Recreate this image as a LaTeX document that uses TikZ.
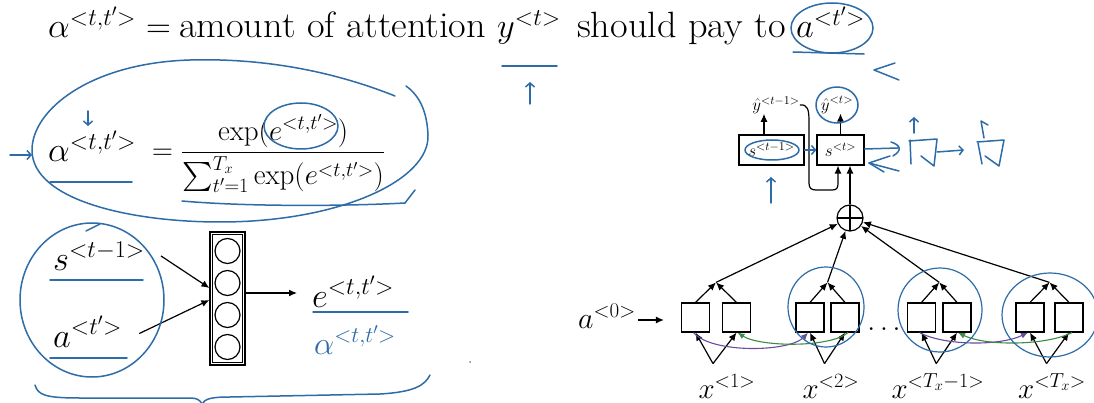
\documentclass[tikz,border=0pt]{standalone}
\usepackage{fix-cm}
\usepackage{graphicx}
\DeclareFontShape{OMX}{cmex}{m}{n}{<->cmex10}{}
\usetikzlibrary{arrows.meta,calc}
\definecolor{hblue}{RGB}{46,108,168}
\definecolor{rpurple}{RGB}{105,75,160}
\definecolor{rgreen}{RGB}{60,140,70}
\newcommand{\mywide}[1]{\scalebox{1.11}[1.06]{#1}}
\begin{document}
\begin{tikzpicture}[x=1pt,y=-1pt,
  hand/.style={draw=hblue,line width=1.5pt,line cap=round,line join=round},
  harrow/.style={hand,-{Straight Barb[length=4pt,width=9pt]}},
  blk/.style={draw=black,line width=1.2pt},
  barr/.style={blk,-{Latex[length=8pt,width=7pt]}},
  big/.style={font=\fontsize{34.5}{40}\selectfont,inner sep=0pt},
  mid/.style={font=\fontsize{29}{32}\selectfont,inner sep=0pt},
  lab/.style={font=\fontsize{29}{32}\selectfont,inner sep=0pt},
  small/.style={font=\fontsize{17}{20}\selectfont,inner sep=0pt},
  cell/.style={blk,rectangle,minimum width=28pt,minimum height=29pt,inner sep=0pt},
  neuron/.style={blk,circle,minimum size=25pt,inner sep=0pt},
  rnnpur/.style={draw=rpurple,line width=1.1pt,-{Latex[length=7pt,width=6pt]}},
  rnngrn/.style={draw=rgreen,line width=1.1pt,-{Latex[length=7pt,width=6pt]}},
]
\fill[white] (0,0) rectangle (1094,403);
\useasboundingbox (0,0) rectangle (1094,403);

% ---------- top line ----------
\node[big,anchor=base west] (t1) at (48,38) {$\alpha^{<t,t'>}$};
\node[big,anchor=base west] (teq) at (146,38) {=};
\node[big,anchor=base west] (t2) at (179,38) {\mywide{amount of attention}};
\node[big,anchor=base west] (ty) at (497,38) {$y^{<t>}$};
\node[big,anchor=base west] (t3) at (577,38) {\mywide{should pay to}};
\node[big,anchor=base west] (ta) at (796,38) {$a^{<t'>}$};
\draw[hand] ($(ty.base west)+(5,28)$) -- ($(ty.base west)+(60,28)$);
\draw[harrow] ($(ty.base west)+(33,66)$) -- ($(ty.base west)+(33,44)$);
\draw[hand] ($(ta.base west)+(36,-10)$) ellipse [x radius=41pt,y radius=25pt];
\draw[hand] ($(ta.base west)+(-3,14)$) -- ($(ta.base west)+(68,16)$);
\draw[hand] ($(ta.base west)+(99,25)$) -- ($(ta.base west)+(78,32)$) -- ($(ta.base west)+(103,42)$);

% ---------- softmax formula ----------
\node[big,anchor=base west] (al) at (48,162) {$\alpha^{<t,t'>}$};
\node[mid,anchor=base west] (fr) at (152,160) {$\displaystyle =\frac{\exp(e^{<t,t'>})}{\sum_{t'=1}^{T_x}\exp(e^{<t,t'>})}$};
\draw[hand] (395,96) .. controls (330,70) and (260,58) .. (190,60)
  .. controls (90,63) and (32,110) .. (32,150)
  .. controls (32,200) and (130,222) .. (220,222)
  .. controls (340,222) and (430,180) .. (428,135)
  .. controls (427,112) and (420,96) .. (406,86);
\draw[hand] (301,126) ellipse [x radius=37pt,y radius=23pt];
\draw[hand] (182,201) .. controls (250,207) and (350,206) .. (405,203) -- (415,190);
\draw[hand] (50,182) -- (132,182);
\draw[harrow] (88,111) -- (88,126);
\draw[harrow] (10,155) -- (32,155);

% ---------- small network ----------
\node[big,anchor=base west] (s) at (53,270) {$s^{<t-1>}$};
\node[big,anchor=base west] (a) at (53,347) {$a^{<t'>}$};
\node[blk,rectangle,minimum width=35pt,minimum height=133pt,inner sep=0pt] (net) at (227.5,298.5) {};
\draw[line width=0.8pt] ($(net.north west)+(3,3)$) rectangle ($(net.south east)+(-3,-3)$);
\node[neuron] (n1) at (227.5,251) {};
\node[neuron] (n2) at (227.5,283) {};
\node[neuron] (n3) at (227.5,315) {};
\node[neuron] (n4) at (227.5,347) {};
\node[big,anchor=base west] (e) at (312,307) {$e^{<t,t'>}$};
\node[anchor=base west,inner sep=0pt,text=hblue,font=\fontsize{32}{36}\selectfont] (ha) at (314,354) {$\alpha^{<t,t'>}$};
\draw[barr] ([xshift=16pt]s.east) -- (net.west |- 0,288);
\draw[barr] ([xshift=17pt,yshift=-2pt]a.east) -- (net.west |- 0,300);
\draw[barr] (net.east |- 0,293) -- ([xshift=-15pt]e.west |- 0,293);
\draw[hand] (92,300) ellipse [x radius=72pt,y radius=77pt];
\draw[hand] (86,231) -- (100,224);
\draw[hand] ($(s.base west)+(-3,10)$) -- ($(s.base west)+(90,10)$);
\draw[hand] ($(a.base west)+(-3,11)$) -- ($(a.base west)+(74,11)$);
\draw[hand] ($(e.base west)+(1,5)$) -- ($(e.base west)+(96,5)$);
\draw[hand] (35,385) .. controls (38,395) and (45,398) .. (80,398) -- (190,398)
  .. controls (197,398) and (200,400) .. (202,404)
  .. controls (205,399) and (210,397) .. (230,397) -- (380,394)
  .. controls (415,392) and (425,385) .. (430,375);
\fill[gray] (470,362) circle (1pt);

% ---------- decoder ----------
\node[small] (yh1) at (776,105) {$\hat{y}^{<t-1>}$};
\node[small] (yh2) at (837,105) {$\hat{y}^{<t>}$};
\node[blk,rectangle,minimum width=65pt,minimum height=30pt,inner sep=0pt,font=\fontsize{17}{20}\selectfont] (s1) at (771.5,150) {$s^{<t-1>}$};
\node[blk,rectangle,minimum width=47pt,minimum height=30pt,inner sep=0pt,font=\fontsize{17}{20}\selectfont] (s2) at (840.5,150) {$s^{<t>}$};
\draw[barr] ([xshift=-7.5pt]s1.north) -- ([xshift=-7.5pt]s1.north |- yh1.south);
\draw[barr] (s2.north) -- (s2.north |- yh2.south);
\draw[barr] (yh1.east) .. controls (808,104) and (809,110) .. (809,122) -- (809,183)
  .. controls (809,188) and (811,190) .. (816,190) -- (832,190)
  .. controls (837,190) and (838,188) .. (838,183) -- (s2.south -| 838,0);
\node[blk,circle,minimum size=26pt,inner sep=0pt,
  path picture={\draw[line width=1.1pt] (path picture bounding box.north) -- (path picture bounding box.south)
   (path picture bounding box.west) -- (path picture bounding box.east);}] (op) at (850,218) {};
\draw[barr] (op.north) -- (op.north |- s2.south);

% hand notes around decoder
\draw[hand] (yh2) ellipse [x radius=21pt,y radius=18pt];
\draw[hand] (772,150) ellipse [x radius=27pt,y radius=10pt];
\draw[harrow] (s1.east) -- (s2.west);
\draw[harrow] (771,203) -- (771,177);
\draw[hand] (s2.east |- 0,149) -- (898,148);
\draw[hand] (891,142) .. controls (900,145) and (903,150) .. (893,156);
\draw[hand] (890,156) -- (869,163) -- (884,172);
\draw[hand] (869,163) -- (899,171);
\draw[hand] (910,140) -- (911,164);
\draw[hand] (909,141) -- (937,139) -- (934,166) -- (921,156);
\draw[harrow] (937,152) -- (964,150);
\draw[hand] (978,143) -- (982,164);
\draw[hand] (977,142) -- (1004,140) -- (999,166) -- (985,156);
\draw[harrow] (914,133) -- (914,117);
\draw[hand] (984,138) -- (981,121) -- (988,125);

% ---------- encoder ----------
\node[cell] (L1) at (695.5,317.5) {};
\node[cell] (R1) at (736.5,317.5) {};
\node[cell] (L2) at (810,317.5) {};
\node[cell] (R2) at (845,317.5) {};
\node[cell] (L3) at (921.5,317.5) {};
\node[cell] (R3) at (957,317.5) {};
\node[cell] (L4) at (1030,317.5) {};
\node[cell] (R4) at (1069,317.5) {};
\node[mid,anchor=base] (dots) at (884,330) {$\dots$};
\node[anchor=base west,inner sep=0pt,font=\fontsize{30}{34}\selectfont] (a0) at (578,328) {$a^{<0>}$};
\draw[barr] ([xshift=2pt]a0.east |- 0,320) -- ([xshift=-17pt]L1.west |- 0,320);

\foreach \i in {1,2,3,4}{
  \coordinate (m\i) at ($(L\i.north)!0.5!(R\i.north)+(0,-20)$);
  \coordinate (v\i) at ($(L\i.south)!0.5!(R\i.south)+(-3,31)$);
  \draw[barr] (L\i.north) -- (m\i);
  \draw[barr] (R\i.north) -- (m\i);
  \draw[barr] (m\i) -- (op);
  \draw[barr] (v\i) -- (L\i.south);
  \draw[barr] (v\i) -- (R\i.south);
}
\node[lab,anchor=base] (x1) at (727,398) {$x^{<1>}$};
\node[lab,anchor=base] (x2) at (831,398) {$x^{<2>}$};
\node[lab,anchor=base] (x3) at (938,398) {$x^{<T_x-1>}$};
\node[lab,anchor=base] (x4) at (1052,398) {$x^{<T_x>}$};

\draw[rnnpur] ([xshift=-2pt]L1.south) .. controls (712,354) and (790,352) .. ([xshift=-2pt]L2.south);
\draw[rnngrn] ([xshift=3pt]R2.south) .. controls (830,348) and (760,347) .. ([xshift=1pt]R1.south);
\draw[rnnpur] ([xshift=-2pt]L3.south) .. controls (945,346) and (1000,346) .. ([xshift=-2pt]L4.south);
\draw[rnngrn] ([xshift=3pt]R4.south) .. controls (1045,346) and (985,346) .. ([xshift=1pt]R3.south);

\draw[hand,line width=1.2pt] (826,307) ellipse [x radius=38pt,y radius=40pt];
\draw[hand,line width=1.2pt] (940,310) ellipse [x radius=42pt,y radius=42pt];
\draw[hand,line width=1.2pt] (1050,315) ellipse [x radius=48pt,y radius=42pt];
\end{tikzpicture}
\end{document}
